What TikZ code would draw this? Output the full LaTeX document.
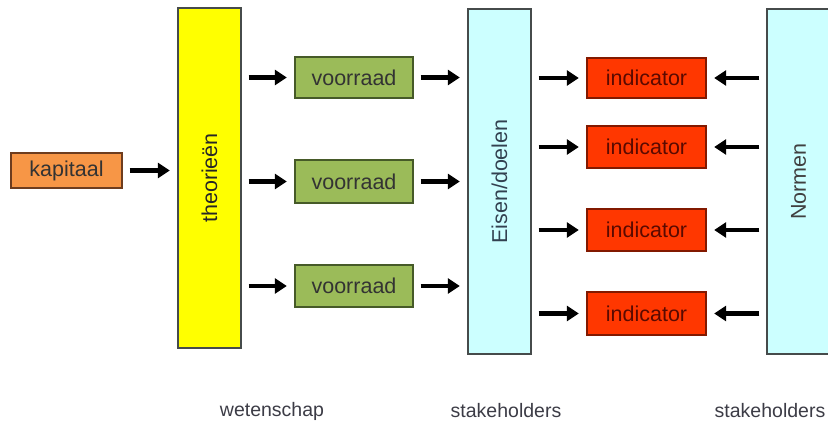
\documentclass[tikz,border=0pt]{standalone}
\usepackage{fontspec}
\setmainfont{Liberation Sans}
\usetikzlibrary{arrows.meta}
\definecolor{kapfill}{RGB}{247,150,70}
\definecolor{kapdraw}{RGB}{110,60,30}
\definecolor{theofill}{RGB}{255,255,0}
\definecolor{greyline}{RGB}{70,75,75}
\definecolor{vfill}{RGB}{155,187,89}
\definecolor{vdraw}{RGB}{70,90,40}
\definecolor{cyanfill}{RGB}{204,255,255}
\definecolor{indfill}{RGB}{255,55,0}
\definecolor{inddraw}{RGB}{130,25,0}
\definecolor{indtext}{RGB}{90,10,0}
\definecolor{eisentext}{RGB}{50,65,80}
\definecolor{labtext}{RGB}{60,60,70}
\tikzset{
  boxbase/.style={rectangle, inner sep=0pt, line width=1.4pt, font=\fontsize{21.5}{25}\selectfont},
  kapbox/.style={boxbase, fill=kapfill, draw=kapdraw, text=black!80},
  theobox/.style={boxbase, fill=theofill, draw=greyline, text=black!85},
  vbox/.style={boxbase, fill=vfill, draw=vdraw, text=black!80, minimum width=118pt},
  cybox/.style={boxbase, fill=cyanfill, draw=greyline, minimum width=63pt, minimum height=345pt},
  indbox/.style={boxbase, fill=indfill, draw=inddraw, text=indtext, minimum width=119pt},
  bottomlabel/.style={inner sep=0pt, text=labtext, font=\fontsize{19.5}{22}\selectfont},
  arr/.style={line width=4.6pt, -{Triangle[length=12pt,width=15pt]}, shorten <=7pt, shorten >=7.5pt}
}
\begin{document}
\begin{tikzpicture}[x=1pt,y=-1pt]
\useasboundingbox (0,0) rectangle (828,423);
\fill[white] (0,0) rectangle (828,423);
% nodes
\node[kapbox, minimum width=111pt, minimum height=35pt] (kap) at (66.5,170.5) {kapitaal};
\node[theobox, minimum width=63pt, minimum height=340pt] (theo) at (209.5,178) {\rotatebox{90}{theorieën}};
\node[vbox, minimum height=41pt] (v1) at (354,77.5) {voorraad};
\node[vbox, minimum height=43pt] (v2) at (354,181.5) {voorraad};
\node[vbox, minimum height=42pt] (v3) at (354,286) {voorraad};
\node[cybox, text=eisentext] (eis) at (499.5,181.5) {\rotatebox{90}{Eisen/doelen}};
\node[indbox, minimum height=40pt] (i1) at (646.5,78) {indicator};
\node[indbox, minimum height=42pt] (i2) at (646.5,147) {indicator};
\node[indbox, minimum height=42pt] (i3) at (646.5,230) {indicator};
\node[indbox, minimum height=43pt] (i4) at (646.5,313.5) {indicator};
\node[cybox, text=black!75] (norm) at (798.5,181.5) {\rotatebox{90}{Normen}};
% bottom labels
\node[bottomlabel] (lw) at (272,411) {wetenschap};
\node[bottomlabel] (ls1) at (506,411) {stakeholders};
\node[bottomlabel] (ls2) at (770,411) {stakeholders};
% connectors
\draw[arr] (kap.east) -- (theo.west |- kap.east);
\foreach \v in {v1,v2,v3}{
  \draw[arr] (theo.east |- \v.west) -- (\v.west);
  \draw[arr] (\v.east) -- (eis.west |- \v.east);
}
\foreach \i in {i1,i2,i3,i4}{
  \draw[arr] (eis.east |- \i.west) -- (\i.west);
  \draw[arr] (norm.west |- \i.east) -- (\i.east);
}
\end{tikzpicture}
\end{document}
